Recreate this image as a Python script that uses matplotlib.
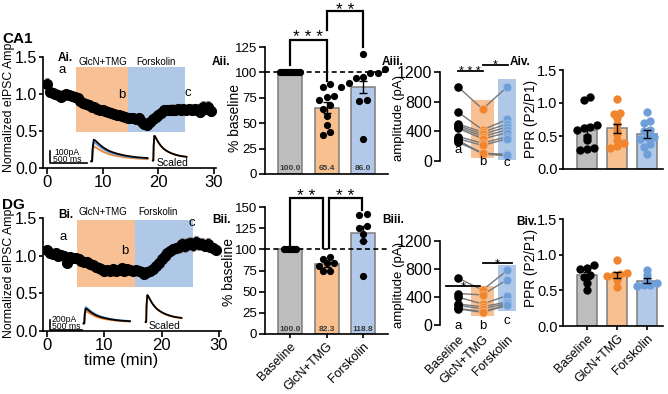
import numpy as np
import matplotlib
matplotlib.use("Agg")
import matplotlib.pyplot as plt
from matplotlib.patches import Rectangle

plt.rcParams['font.family'] = ['Liberation Sans', 'DejaVu Sans']

# ---------------- data ----------------
groups = ["Baseline", "GlcN+TMG", "Forskolin"]

# time course (normalized eIPSC amplitude, one point every 30 s)
ca1_time = np.arange(60) * 0.5
ca1_amp = [1.14, 1.03, 1.02, 1.00, 0.98, 0.96, 0.99, 1.00, 0.98, 0.97,
           0.96, 0.94, 0.91, 0.88, 0.86, 0.85, 0.83, 0.82, 0.80, 0.79,
           0.78, 0.77, 0.76, 0.74, 0.73, 0.72, 0.71, 0.70, 0.69, 0.68,
           0.67, 0.67, 0.66, 0.68, 0.62, 0.60, 0.58, 0.62, 0.66, 0.69,
           0.72, 0.75, 0.78, 0.79, 0.78, 0.79, 0.78, 0.80, 0.79, 0.80,
           0.78, 0.80, 0.79, 0.80, 0.79, 0.76, 0.83, 0.80, 0.83, 0.77]
ca1_sem = [0.08, 0.04, 0.03, 0.03, 0.03, 0.03, 0.03, 0.03, 0.03, 0.03,
           0.03, 0.03, 0.04, 0.04, 0.04, 0.04, 0.04, 0.04, 0.04, 0.04,
           0.04, 0.04, 0.04, 0.04, 0.04, 0.04, 0.04, 0.04, 0.04, 0.04,
           0.04, 0.04, 0.04, 0.05, 0.05, 0.05, 0.05, 0.05, 0.05, 0.06,
           0.06, 0.06, 0.06, 0.06, 0.07, 0.07, 0.07, 0.07, 0.07, 0.07,
           0.07, 0.07, 0.07, 0.07, 0.07, 0.07, 0.08, 0.07, 0.07, 0.07]

dg_time = np.arange(60) * 0.5
dg_amp = [1.07, 1.03, 1.02, 1.04, 1.00, 1.01, 0.99, 0.90, 0.98, 0.97,
          0.97, 0.95, 0.93, 0.92, 0.91, 0.89, 0.87, 0.85, 0.83, 0.82,
          0.80, 0.81, 0.79, 0.82, 0.80, 0.81, 0.83, 0.80, 0.82, 0.81,
          0.80, 0.81, 0.79, 0.78, 0.76, 0.78, 0.80, 0.82, 0.86, 0.90,
          0.95, 0.99, 1.03, 1.06, 1.09, 1.10, 1.12, 1.15, 1.13, 1.16,
          1.17, 1.14, 1.18, 1.15, 1.16, 1.13, 1.16, 1.12, 1.10, 1.08]
dg_sem = [0.04, 0.03, 0.03, 0.03, 0.03, 0.03, 0.03, 0.03, 0.03, 0.03,
          0.03, 0.03, 0.03, 0.03, 0.03, 0.03, 0.03, 0.03, 0.03, 0.03,
          0.03, 0.03, 0.03, 0.03, 0.03, 0.03, 0.03, 0.03, 0.03, 0.03,
          0.03, 0.03, 0.03, 0.03, 0.04, 0.04, 0.04, 0.05, 0.05, 0.06,
          0.06, 0.07, 0.07, 0.07, 0.07, 0.07, 0.08, 0.08, 0.08, 0.08,
          0.08, 0.08, 0.08, 0.08, 0.07, 0.07, 0.07, 0.07, 0.07, 0.06]

# drug windows (min) and heights of the shaded boxes
ca1_glcn = (5.25, 14.5)
ca1_fsk = (14.5, 24.8)
ca1_box = (0.48, 1.36)
dg_glcn = (5.3, 15.3)
dg_fsk = (15.3, 25.5)
dg_box = (0.58, 1.47)

# example eIPSC waveform (fraction of trace duration, fraction of peak)
wave_t = [-0.02, 0.0, 0.01, 0.03, 0.05, 0.08, 0.12, 0.17, 0.23, 0.30,
          0.38, 0.47, 0.57, 0.68, 0.80, 0.90, 1.0]
wave_y = [0.0, 0.0, 0.6, 1.0, 0.98, 0.91, 0.81, 0.70, 0.59, 0.49,
          0.41, 0.34, 0.28, 0.23, 0.19, 0.17, 0.15]
ca1_trace_pa = [186, 128, 163]      # baseline, GlcN+TMG, forskolin
dg_trace_pa = [300, 250, 330]

# % baseline
ca1_pct_mean = [100.0, 65.4, 86.0]
ca1_pct_sem = [0.0, 5.0, 6.0]
ca1_pct_pts = [[100] * 11,
               [89, 86, 77, 76, 73, 68, 64, 57, 48, 41, 38],
               [118, 103, 99, 99, 95, 94, 90, 86, 73, 72, 34]]
dg_pct_mean = [100.0, 82.3, 118.8]
dg_pct_sem = [0.0, 3.0, 9.0]
dg_pct_pts = [[100] * 7,
              [91, 89, 84, 84, 80, 74, 74],
              [140, 142, 127, 125, 118, 110, 69]]

# amplitude (pA) per cell: a, b, c
ca1_amp_a = [1000, 660, 500, 480, 460, 440, 330, 300, 280, 270, 250]
ca1_amp_b = [700, 420, 390, 360, 330, 300, 240, 210, 100, 95, 110]
ca1_amp_c = [1000, 560, 500, 460, 420, 380, 330, 300, 90, 70, 80]
dg_amp_a = [670, 450, 400, 300, 280, 240, 230]
dg_amp_b = [500, 430, 300, 260, 230, 190, 180]
dg_amp_c = [780, 650, 420, 330, 310, 290, 280]

# paired pulse ratio
ca1_ppr = [[1.05, 1.09, 0.67, 0.63, 0.62, 0.59, 0.49, 0.44, 0.32, 0.30, 0.29],
           [1.06, 0.85, 0.84, 0.77, 0.68, 0.58, 0.53, 0.44, 0.39, 0.32, 0.35],
           [0.87, 0.73, 0.70, 0.59, 0.57, 0.49, 0.48, 0.38, 0.34, 0.22, 0.45]]
ca1_ppr_sem = [0.07, 0.07, 0.06]
dg_ppr = [[0.85, 0.82, 0.80, 0.72, 0.68, 0.60, 0.50],
          [0.92, 0.75, 0.73, 0.72, 0.70, 0.65, 0.55],
          [0.78, 0.72, 0.65, 0.60, 0.58, 0.57, 0.56]]
dg_ppr_sem = [0.045, 0.04, 0.03]

# ---------------- style ----------------
bar_fill = ['#bdbdbd', '#f9c08f', '#b2c9ea']
dot_col = ['black', '#f0852d', '#6e9fd8']
box_col = ['#f8c095', '#b0c8e8']
edge_gray = '#7d7d7d'

W, H = 668, 394
fig = plt.figure(figsize=(W / 100, H / 100), dpi=100)


def ax_px(left, top, right, bottom):
    return fig.add_axes([left / W, 1 - bottom / H, (right - left) / W, (bottom - top) / H])


def txt(x, y, s, **kw):
    kw.setdefault('ha', 'center')
    kw.setdefault('va', 'center')
    return fig.text(x / W, 1 - y / H, s, **kw)


def prism(ax, size, bottom=True):
    for s in ['top', 'right']:
        ax.spines[s].set_visible(False)
    ax.spines['left'].set_linewidth(1.2)
    ax.spines['bottom'].set_linewidth(1.2)
    if not bottom:
        ax.spines['bottom'].set_visible(False)
    ax.tick_params(direction='out', length=4, width=1.2, labelsize=size, pad=1.5)
    ax.patch.set_alpha(0)


def swarm(vals, thresh, step):
    vals = np.asarray(vals, float)
    order = np.argsort(vals)
    offs = np.zeros(len(vals))
    groups_ = [[order[0]]]
    for i in order[1:]:
        if vals[i] - vals[groups_[-1][-1]] < thresh:
            groups_[-1].append(i)
        else:
            groups_.append([i])
    for g in groups_:
        k = len(g)
        for j, idx in enumerate(g):
            offs[idx] = (j - (k - 1) / 2) * step
    return offs


def stars(ax, x, y_line, label, fs, gap=2.5):
    # asterisks sit high in the text box, so anchor on the baseline
    ax.annotate(label, (x, y_line), xytext=(0, gap - 0.42 * fs), textcoords='offset points',
                ha='center', va='baseline', fontsize=fs, annotation_clip=False)


def time_course(ax, t, v, e, glcn, fsk, box, xr):
    ax.set_xlim(*xr)
    ax.set_ylim(0, 1.5)
    ax.add_patch(Rectangle((glcn[0], box[0]), glcn[1] - glcn[0], box[1] - box[0],
                           color=box_col[0], lw=0, zorder=0))
    ax.add_patch(Rectangle((fsk[0], box[0]), fsk[1] - fsk[0], box[1] - box[0],
                           color=box_col[1], lw=0, zorder=0))
    ax.errorbar(t, v, yerr=e, fmt='o', color='black', ms=7, ecolor='#8c8c8c',
                elinewidth=0.8, capsize=1.5, capthick=0.8, zorder=3)
    ax.set_xticks([0, 10, 20, 30])
    ax.set_yticks([0, 0.5, 1.0, 1.5])
    ax.set_yticklabels(['0.0', '0.5', '1.0', '1.5'])
    prism(ax, 11.5)
    ax.tick_params(axis='x', pad=1, labelsize=12)
    ax.tick_params(axis='y', length=3, pad=1)


def trace(ax, x0, width, base, amp, color, lw=1.3):
    x = x0 + width * np.asarray(wave_t)
    y = base + amp * np.asarray(wave_y)
    ax.plot(x, y, color=color, lw=lw, solid_capstyle='round', zorder=4)


def pct_panel(ax, means, sems, pts, ylim, yt):
    ax.set_xlim(-0.685, 2.68)
    ax.set_ylim(0, ylim)
    ax.bar(range(3), means, width=0.66, color=bar_fill, edgecolor=edge_gray, lw=1.1, zorder=1)
    ax.errorbar(range(3), means, yerr=sems, fmt='none', ecolor='black', capsize=3,
                elinewidth=1, capthick=1, zorder=2)
    for i, p in enumerate(pts):
        step = 0.055 if i == 0 else 0.2
        off = swarm(p, 4.5, step)
        ax.scatter(i + off, p, s=27, color='black', zorder=3, lw=0)
    for i, m in enumerate(means):
        ax.text(i, 1.5, '%.1f' % m, ha='center', va='bottom', fontsize=6,
                fontweight='bold', color='#3a3a3a', zorder=4)
    ax.axhline(100, ls=(0, (3, 2)), color='black', lw=1.2, zorder=2)
    ax.set_yticks(yt)
    prism(ax, 9.5)


def bracket(ax, x1, x2, top, y1, y2, label, gap):
    ax.plot([x1, x1, x2, x2], [y1, top, top, y2], color='black', lw=1.6,
            clip_on=False, solid_joinstyle='miter')
    stars(ax, (x1 + x2) / 2, top, label, 12.5, gap)


def amp_panel(ax, a, b, c, ylo, box_o, box_b):
    ax.set_xlim(-0.73, 2.6)
    ax.set_ylim(0, 1200)
    ax.add_patch(Rectangle((1 - 0.46, box_o[0]), 0.92, box_o[1] - box_o[0],
                           color=box_col[0], lw=0, zorder=0, clip_on=False))
    ax.add_patch(Rectangle((2 - 0.36, box_b[0]), 0.72, box_b[1] - box_b[0],
                           color=box_col[1], lw=0, zorder=0, clip_on=False))
    for va, vb, vc in zip(a, b, c):
        ax.plot([0, 1, 2], [va, vb, vc], color='#777777', lw=1, zorder=2, clip_on=False)
    ax.scatter([0] * len(a), a, s=38, color='black', zorder=3, lw=0, clip_on=False)
    ax.scatter([1] * len(b), b, s=38, color=dot_col[1], edgecolor='#f7b47a', lw=0.6,
               zorder=3, clip_on=False)
    ax.scatter([2] * len(c), c, s=38, color=dot_col[2], edgecolor='#9dbfe8', lw=0.6,
               zorder=3, clip_on=False)
    for i, (lab, y) in enumerate(zip('abc', ylo)):
        ax.text(i, y, lab, ha='center', va='center', fontsize=9.5)
    ax.set_yticks([0, 400, 800, 1200])
    prism(ax, 11.5, bottom=False)


def ppr_panel(ax, pts, sems):
    means = [np.mean(p) for p in pts]
    ax.set_xlim(-0.8, 2.53)
    ax.set_ylim(0, 1.5)
    ax.bar(range(3), means, width=0.66, color=bar_fill, edgecolor=edge_gray, lw=1.1, zorder=1)
    for i, p in enumerate(pts):
        off = swarm(p, 0.045, 0.22)
        ax.scatter(i + off, p, s=36, color=dot_col[i], zorder=2, lw=0)
    ax.errorbar(range(3), means, yerr=sems, fmt='none', ecolor='black', capsize=3,
                elinewidth=1, capthick=1, zorder=3)
    ax.set_yticks([0, 0.5, 1.0, 1.5])
    ax.set_yticklabels(['0.0', '0.5', '1.0', '1.5'])
    prism(ax, 10.5)
    ax.tick_params(axis='y', length=3, pad=1)


def rot_labels(ax, size):
    ax.set_xticks(range(3))
    ax.set_xticklabels(groups, rotation=45, ha='right', va='top',
                       rotation_mode='anchor', fontsize=size)


# ---------------- CA1 row ----------------
axAi = ax_px(43, 57, 216, 168)
time_course(axAi, ca1_time, ca1_amp, ca1_sem, ca1_glcn, ca1_fsk, ca1_box, (-0.72, 30.36))
u = 0.157 / 100
trace(axAi, 8.1, 10, 0.09, ca1_trace_pa[1] * u, dot_col[1])
trace(axAi, 8.1, 10, 0.09, ca1_trace_pa[2] * u, dot_col[2])
trace(axAi, 8.1, 10, 0.09, ca1_trace_pa[0] * u, 'black')
trace(axAi, 19.1, 6, 0.1, 0.33, dot_col[1])
trace(axAi, 19.1, 6, 0.1, 0.335, 'black')
axAi.plot([0.55, 0.55, 7.2], [0.067 + 100 * u, 0.067, 0.067], color='black', lw=1.2)
axAi.text(1.3, 0.212, '100pA', fontsize=6.2, ha='left', va='center')
axAi.text(1.0, 0.11, '500 ms', fontsize=6.2, ha='left', va='center')
axAi.text(22.5, 0.065, 'Scaled', fontsize=7.5, ha='center', va='center')
axAi.text(2.7, 1.32, 'a', fontsize=9.5, ha='center', va='center')
axAi.text(13.4, 0.99, 'b', fontsize=9.5, ha='center', va='center')
axAi.text(25.3, 1.02, 'c', fontsize=9.5, ha='center', va='center')

axAii = ax_px(265, 47, 388, 174)
pct_panel(axAii, ca1_pct_mean, ca1_pct_sem, ca1_pct_pts, 125, [0, 25, 50, 75, 100, 125])
axAii.set_xticks([])
bracket(axAii, 0, 1, 132, 107, 92, '* * *', 4)
bracket(axAii, 1, 2, 160, 142, 125, '* *', 3)

axAiii = ax_px(440, 72, 522, 161)
amp_panel(axAiii, ca1_amp_a, ca1_amp_b, ca1_amp_c, [150, -10, -25], (40, 820), (20, 1100))
axAiii.set_xticks([])
axAiii.plot([0, 1], [1217, 1217], color='black', lw=1.3, clip_on=False)
stars(axAiii, 0.5, 1217, '* * *', 9, 1)
axAiii.plot([1, 2.05], [1294, 1294], color='black', lw=1.3, clip_on=False)
stars(axAiii, 1.5, 1294, '*', 9, 1)

axAiv = ax_px(563, 70, 663, 169)
ppr_panel(axAiv, ca1_ppr, ca1_ppr_sem)
axAiv.set_xticks([])

# ---------------- DG row ----------------
axBi = ax_px(43, 218, 221, 331)
time_course(axBi, dg_time, dg_amp, dg_sem, dg_glcn, dg_fsk, dg_box, (-0.7, 30.35))
u = 0.132 / 200
trace(axBi, 6.5, 8, 0.1, dg_trace_pa[1] * u, dot_col[1])
trace(axBi, 6.5, 8, 0.1, dg_trace_pa[2] * u, dot_col[2])
trace(axBi, 6.5, 8, 0.1, dg_trace_pa[0] * u, 'black')
trace(axBi, 17.3, 6.2, 0.115, 0.36, dot_col[1])
trace(axBi, 17.3, 6.2, 0.12, 0.355, 'black')
axBi.plot([0.53, 0.53, 6.1], [0.017 + 200 * u, 0.017, 0.017], color='black', lw=1.2)
axBi.text(0.85, 0.148, '200pA', fontsize=6.2, ha='left', va='center')
axBi.text(0.85, 0.055, '500 ms', fontsize=6.2, ha='left', va='center')
axBi.text(20.5, 0.066, 'Scaled', fontsize=7.5, ha='center', va='center')
axBi.text(2.85, 1.25, 'a', fontsize=9.5, ha='center', va='center')
axBi.text(13.6, 1.06, 'b', fontsize=9.5, ha='center', va='center')
axBi.text(25.2, 1.43, 'c', fontsize=9.5, ha='center', va='center')

axBii = ax_px(265, 207, 388, 334)
pct_panel(axBii, dg_pct_mean, dg_pct_sem, dg_pct_pts, 150, [0, 25, 50, 75, 100, 125, 150])
rot_labels(axBii, 9)
axBii.tick_params(axis='x', length=3)
bracket(axBii, 0, 0.9, 160.6, 105, 101, '* *', 3)
bracket(axBii, 1.07, 1.97, 160.6, 101, 146, '* *', 3)

axBiii = ax_px(440, 241, 522, 325)
amp_panel(axBiii, dg_amp_a, dg_amp_b, dg_amp_c, [-20, -20, 60], (130, 560), (200, 860))
rot_labels(axBiii, 9)
axBiii.tick_params(axis='x', length=0, pad=6)
axBiii.plot([-0.5, 0.9], [560, 560], color='black', lw=1.3, clip_on=False)
stars(axBiii, 0.2, 560, '*', 9.5, 1)
axBiii.plot([1.0, 2.2], [880, 880], color='black', lw=1.3, clip_on=False)
stars(axBiii, 1.6, 880, '*', 9.5, 1)

axBiv = ax_px(563, 219, 663, 326)
ppr_panel(axBiv, dg_ppr, dg_ppr_sem)
rot_labels(axBiv, 9)
axBiv.tick_params(axis='x', length=3)

# ---------------- labels ----------------
txt(2, 39, 'CA1', fontsize=11, fontweight='bold', ha='left')
txt(2, 205, 'DG', fontsize=11, fontweight='bold', ha='left')
txt(58, 58, 'Ai.', fontsize=8.5, fontweight='bold', ha='left')
txt(58, 215, 'Bi.', fontsize=8.5, fontweight='bold', ha='left')
txt(103, 62, 'GlcN+TMG', fontsize=7)
txt(156, 62, 'Forskolin', fontsize=7)
txt(103, 212, 'GlcN+TMG', fontsize=7)
txt(158, 212, 'Forskolin', fontsize=7)
txt(212, 62, 'Aii.', fontsize=8.5, fontweight='bold', ha='left')
txt(212, 220, 'Bii.', fontsize=8.5, fontweight='bold', ha='left')
txt(382, 62, 'Aiii.', fontsize=8.5, fontweight='bold', ha='left')
txt(382, 220, 'Biii.', fontsize=8.5, fontweight='bold', ha='left')
txt(510, 62, 'Aiv.', fontsize=8.5, fontweight='bold', ha='left')
txt(516, 222, 'Biv.', fontsize=8.5, fontweight='bold', ha='left')

txt(9, 107, 'Normalized eIPSC Amp', fontsize=8.8, rotation=90)
txt(9, 273, 'Normalized eIPSC Amp', fontsize=8.8, rotation=90)
txt(121, 361, 'time (min)', fontsize=12)
txt(235, 118, '% baseline', fontsize=10, rotation=90)
txt(229, 272, '% baseline', fontsize=10, rotation=90)
txt(399, 118, 'amplitude (pA)', fontsize=9.5, rotation=90)
txt(399, 285, 'amplitude (pA)', fontsize=9.5, rotation=90)
txt(531, 119, 'PPR (P2/P1)', fontsize=9.8, rotation=90)
txt(531, 268, 'PPR (P2/P1)', fontsize=9.8, rotation=90)

fig.savefig('out.png', dpi=100)
